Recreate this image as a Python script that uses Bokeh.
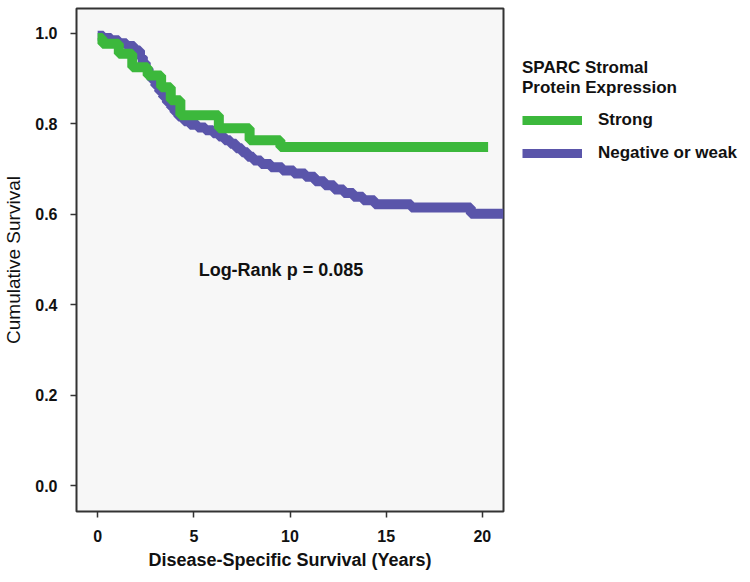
from bokeh.plotting import figure
from bokeh.models import Legend, LegendItem, Label, FixedTicker
from bokeh.layouts import row
from bokeh.embed import file_html
from bokeh.resources import INLINE

# ---- data ----
strong_t = [0.0, 0.25, 1.1, 1.8, 2.6, 3.3, 3.8, 4.3, 6.3, 7.9, 9.5, 20.3]
strong_s = [0.99, 0.977, 0.955, 0.925, 0.907, 0.881, 0.852, 0.819, 0.790, 0.764, 0.749, 0.749]

weak_t = [0.0, 0.3, 0.7, 1.1, 1.5, 1.9, 2.2, 2.35, 2.5, 2.65, 2.8, 3.0, 3.2, 3.4, 3.6, 3.8,
          4.0, 4.2, 4.5, 4.8, 5.2, 5.6, 6.0, 6.3, 6.6, 6.9, 7.2, 7.5, 7.8, 8.1, 8.5, 9.0,
          9.6, 10.2, 10.8, 11.3, 11.8, 12.3, 12.8, 13.3, 13.8, 14.4, 16.3, 19.4, 21.1]
weak_s = [0.995, 0.99, 0.985, 0.978, 0.972, 0.962, 0.948, 0.935, 0.922, 0.91, 0.898, 0.885,
          0.872, 0.86, 0.848, 0.837, 0.826, 0.816, 0.806, 0.798, 0.792, 0.786, 0.779, 0.772,
          0.764, 0.756, 0.746, 0.737, 0.727, 0.719, 0.711, 0.704, 0.697, 0.690, 0.683, 0.673,
          0.664, 0.655, 0.647, 0.639, 0.631, 0.622, 0.615, 0.601, 0.601]

x_ticks = [0, 5, 10, 15, 20]
x_tick_labels = ["0", "5", "10", "15", "20"]
y_ticks = [0.0, 0.2, 0.4, 0.6, 0.8, 1.0]
y_tick_labels = ["0.0", "0.2", "0.4", "0.6", "0.8", "1.0"]

series_names = ["Strong", "Negative or weak"]
legend_title = "SPARC Stromal\nProtein Expression"
annotation_text = "Log-Rank p = 0.085"

GREEN = "#3cb83c"
PURPLE = "#5a55aa"
FONT = "Liberation Sans"
H = 574

p = figure(width=505, height=H, output_backend="svg", toolbar_location=None,
           x_range=(-1.1, 21.1), y_range=(-0.057, 1.055),
           min_border_left=76, min_border_right=2, min_border_top=8, min_border_bottom=63)

p.background_fill_color = "#f7f7f7"
p.border_fill_color = "white"
p.outline_line_color = "#333333"
p.outline_line_width = 2
p.grid.visible = False

r_weak = p.step(weak_t, weak_s, mode="after", line_color=PURPLE, line_width=10)
r_strong = p.step(strong_t, strong_s, mode="after", line_color=GREEN, line_width=10)

for ax in (p.xaxis[0], p.yaxis[0]):
    ax.axis_line_color = None
    ax.major_tick_line_color = "#333333"
    ax.major_tick_line_width = 1.5
    ax.major_tick_out = 6
    ax.major_tick_in = 0
    ax.minor_tick_line_color = None
    ax.major_label_text_font = FONT
    ax.major_label_text_font_style = "bold"
    ax.major_label_text_font_size = "16px"
    ax.major_label_text_color = "#111111"
    ax.axis_label_text_font = FONT
    ax.axis_label_text_color = "#111111"

p.xaxis.ticker = FixedTicker(ticks=x_ticks)
p.xaxis.major_label_overrides = {t: l for t, l in zip(x_ticks, x_tick_labels)}
p.yaxis.ticker = FixedTicker(ticks=y_ticks)
p.yaxis.major_label_overrides = {t: l for t, l in zip(y_ticks, y_tick_labels)}

p.xaxis.axis_label = "Disease-Specific Survival (Years)"
p.xaxis.axis_label_text_font_style = "bold"
p.xaxis.axis_label_text_font_size = "18px"
p.xaxis.major_label_standoff = 12
p.xaxis.axis_label_standoff = 5

p.yaxis.axis_label = "Cumulative Survival"
p.yaxis.axis_label_text_font_style = "normal"
p.yaxis.axis_label_text_font_size = "19px"
p.yaxis.major_label_standoff = 13
p.yaxis.axis_label_standoff = 8

p.add_layout(Label(x=5.25, y=0.476, text=annotation_text, text_font=FONT,
                   text_font_style="bold", text_font_size="18px", text_color="#111111",
                   text_baseline="middle", text_align="left"))

# ---- legend panel ----
pl = figure(width=237, height=H, output_backend="svg", toolbar_location=None,
            x_range=(0, 1), y_range=(0, 1),
            min_border_left=0, min_border_right=0, min_border_top=0, min_border_bottom=0)
pl.axis.visible = False
pl.grid.visible = False
pl.outline_line_color = None
pl.background_fill_color = "white"
pl.border_fill_color = "white"
lg_strong = pl.line(x=[-10, -9], y=[-10, -10], line_color=GREEN, line_width=9)
lg_weak = pl.line(x=[-10, -9], y=[-10, -10], line_color=PURPLE, line_width=9)

legend = Legend(items=[LegendItem(label=series_names[0], renderers=[lg_strong]),
                       LegendItem(label=series_names[1], renderers=[lg_weak])],
                location=(17, 348), title=legend_title)
legend.title_text_font = FONT
legend.title_text_font_style = "bold"
legend.title_text_font_size = "17px"
legend.title_text_color = "#111111"
legend.title_standoff = 12
legend.label_text_font = FONT
legend.label_text_font_style = "bold"
legend.label_text_font_size = "17px"
legend.label_text_color = "#111111"
legend.glyph_width = 60
legend.glyph_height = 20
legend.label_height = 20
legend.label_standoff = 16
legend.spacing = 13
legend.padding = 10
legend.margin = 0
legend.border_line_color = None
legend.background_fill_alpha = 0
pl.add_layout(legend, "center")

layout = row(p, pl, spacing=0)
open("out.html", "w").write(file_html(layout, INLINE))
